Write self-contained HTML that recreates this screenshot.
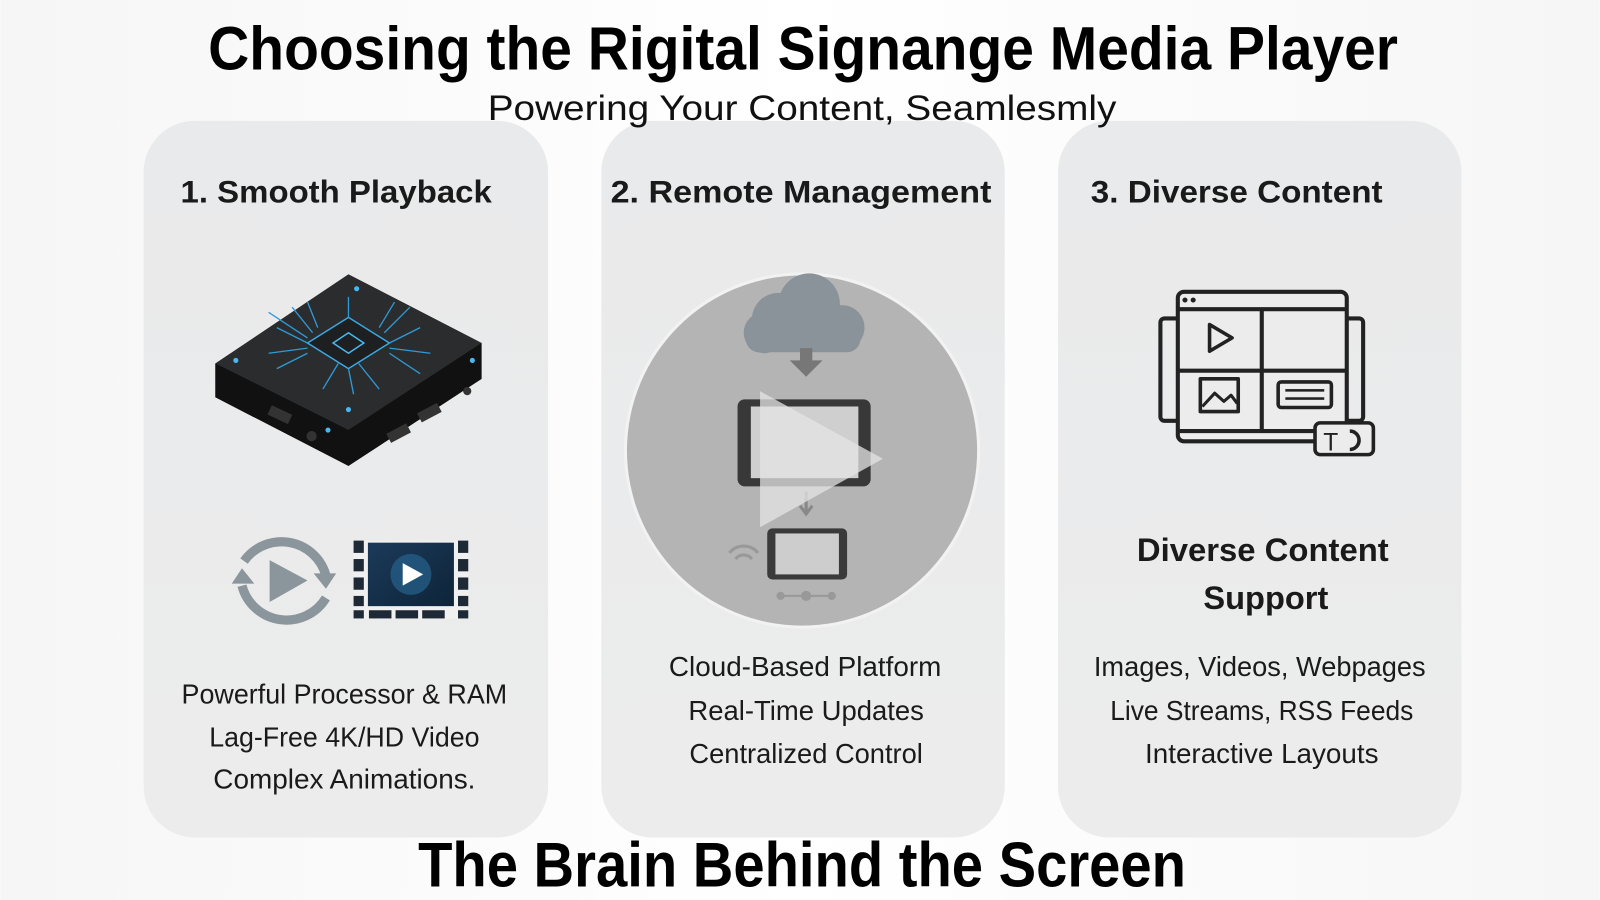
<!DOCTYPE html>
<html><head><meta charset="utf-8">
<style>
html,body{margin:0;padding:0;background:#fff;width:1600px;height:900px;overflow:hidden}
svg{display:block}
</style></head>
<body>
<svg width="1600" height="900" viewBox="0 0 1562 879" xmlns="http://www.w3.org/2000/svg" font-family="'Liberation Sans', sans-serif">
<defs>
<linearGradient id="bg" x1="0" x2="1"><stop offset="0" stop-color="#f6f6f6"/><stop offset="0.5" stop-color="#fff"/><stop offset="1" stop-color="#f6f6f6"/></linearGradient>
<linearGradient id="card" x1="0" y1="0" x2="0" y2="1"><stop offset="0" stop-color="#e9eaeb"/><stop offset="1" stop-color="#ececec"/></linearGradient>
<linearGradient id="scr" x1="0" y1="0" x2="1" y2="1"><stop offset="0" stop-color="#1b3a5a"/><stop offset="1" stop-color="#0e2438"/></linearGradient>
</defs>
<rect width="1562" height="879" fill="url(#bg)"/>

<!-- cards -->
<rect x="140" y="118" width="395" height="700" rx="50" fill="url(#card)"/>
<rect x="587" y="118" width="394" height="700" rx="50" fill="url(#card)"/>
<rect x="1033" y="118" width="394" height="700" rx="50" fill="url(#card)"/>

<!-- titles -->
<text x="784" y="68" text-anchor="middle" font-size="60" font-weight="bold" textLength="1162" lengthAdjust="spacingAndGlyphs" fill="#000">Choosing the Rigital Signange Media Player</text>
<text x="783" y="117" text-anchor="middle" font-size="34" textLength="614" lengthAdjust="spacingAndGlyphs" fill="#111">Powering Your Content, Seamlesmly</text>
<text x="783" y="866" text-anchor="middle" font-size="62" font-weight="bold" textLength="750" lengthAdjust="spacingAndGlyphs" fill="#000">The Brain Behind the Screen</text>

<!-- card headings -->
<text x="176" y="198" font-size="31" font-weight="bold" textLength="304" lengthAdjust="spacingAndGlyphs" fill="#1a1a1a">1. Smooth Playback</text>
<text x="596" y="198" font-size="31" font-weight="bold" textLength="372" lengthAdjust="spacingAndGlyphs" fill="#1a1a1a">2. Remote Management</text>
<text x="1065" y="198" font-size="31" font-weight="bold" textLength="285" lengthAdjust="spacingAndGlyphs" fill="#1a1a1a">3. Diverse Content</text>

<!-- card 1 device -->
<g>
<path d="M210 355 L340 268 L470 335 L470 370 L340 455 L210 388 Z" fill="#1a1a1a"/>
<path d="M210 355 L340 268 L470 335 L340 420 Z" fill="#2a2c2e"/>
<path d="M210 355 L340 420 L470 335 L470 370 L340 455 L210 388 Z" fill="#111"/>
<path d="M300 335 L340 310 L380 335 L340 360 Z" fill="#1d1f21" stroke="#3aa8e0" stroke-width="1.5"/>
<path d="M325 335 L340 325 L355 335 L340 345 Z" fill="none" stroke="#4ab8f0" stroke-width="1.5"/>
<g stroke="#2f9ad6" stroke-width="1.3" fill="none">
<path d="M300 335 L270 320 M300 330 L262 305 M305 325 L285 300 M310 320 L300 295 M300 340 L262 345 M300 345 L270 360 M380 335 L410 320 M375 325 L400 300 M370 320 L385 295 M380 340 L420 345 M380 345 L410 365 M340 360 L345 385 M350 355 L370 380 M330 355 L315 380 M340 310 L340 290"/>
</g>
<g fill="#4ab8f0"><circle cx="348" cy="282" r="2.5"/><circle cx="230" cy="352" r="2.5"/><circle cx="461" cy="352" r="2.5"/><circle cx="340" cy="400" r="2.5"/><circle cx="320" cy="420" r="2.5"/></g>
<rect x="262" y="400" width="22" height="10" fill="#333" transform="rotate(25 273 405)"/>
<rect x="378" y="418" width="22" height="10" fill="#333" transform="rotate(-28 389 423)"/>
<rect x="408" y="398" width="22" height="10" fill="#333" transform="rotate(-28 419 403)"/>
<circle cx="304" cy="426" r="5" fill="#333"/>
<circle cx="456" cy="382" r="4" fill="#333"/>
</g>

<!-- replay icon -->
<g fill="none" stroke="#8a959c" stroke-width="9">
<path d="M238 548 A45 45 0 0 1 318 562"/>
<path d="M318 584 A45 45 0 0 1 236 572"/>
</g>
<path d="M306 560 L328 560 L318 575 Z" fill="#8a959c"/>
<path d="M226 570 L248 570 L236 555 Z" fill="#8a959c"/>
<path d="M263 547 L300 567 L263 588 Z" fill="#8a959c"/>

<!-- film strip -->
<rect x="345" y="528" width="112" height="76" fill="#f0f0f0"/>
<g fill="#1d2a35">
<rect x="345" y="528" width="10" height="12"/><rect x="345" y="546" width="10" height="12"/><rect x="345" y="564" width="10" height="12"/><rect x="345" y="582" width="10" height="10"/><rect x="345" y="596" width="10" height="8"/>
<rect x="447" y="528" width="10" height="12"/><rect x="447" y="546" width="10" height="12"/><rect x="447" y="564" width="10" height="12"/><rect x="447" y="582" width="10" height="10"/><rect x="447" y="596" width="10" height="8"/>
<rect x="360" y="596" width="22" height="8"/><rect x="386" y="596" width="22" height="8"/><rect x="412" y="596" width="22" height="8"/>
</g>
<rect x="359" y="530" width="84" height="62" fill="url(#scr)"/>
<circle cx="401" cy="561" r="20" fill="#2a6a9a" opacity="0.6"/>
<path d="M393 550 L413 561 L393 572 Z" fill="#fff"/>

<!-- card 2 circle -->
<circle cx="783" cy="440" r="174" fill="#f2f2f2"/>
<circle cx="783" cy="440" r="171" fill="#b4b4b4"/>
<g fill="#8b939a">
<circle cx="760" cy="312" r="26"/><circle cx="790" cy="297" r="30"/><circle cx="822" cy="320" r="22"/><circle cx="746" cy="325" r="20"/>
<rect x="728" y="318" width="112" height="26" rx="13"/>
</g>
<rect x="781" y="340" width="12" height="15" fill="#777"/>
<path d="M771 352 L803 352 L787 368 Z" fill="#777"/>
<rect x="720" y="390" width="130" height="85" rx="7" fill="#383838"/>
<rect x="733" y="397" width="105" height="70" fill="#cfcfcf"/>
<path d="M787 480 L787 500 M781 494 L787 502 L793 494" stroke="#888" stroke-width="3" fill="none"/>
<rect x="749" y="516" width="78" height="50" rx="5" fill="#3a3a3a"/>
<rect x="757" y="521" width="62" height="40" fill="#cdcdcd"/>
<path d="M712 540 A18 18 0 0 1 740 540 M718 546 A10 10 0 0 1 734 546" stroke="#999" stroke-width="3" fill="none"/>
<path d="M760 582 L812 582" stroke="#999" stroke-width="2"/>
<circle cx="762" cy="582" r="4" fill="#999"/><circle cx="787" cy="582" r="5" fill="#999"/><circle cx="812" cy="582" r="4" fill="#999"/>
<path d="M742 382 L862 448 L742 515 Z" fill="#e4e4e4" opacity="0.75"/>

<!-- card 3 icon -->
<g fill="none" stroke="#222" stroke-width="4" stroke-linejoin="round">
<rect x="1133" y="311" width="20" height="100" rx="4"/>
<rect x="1311" y="311" width="20" height="100" rx="4"/>
<rect x="1150" y="285" width="165" height="146" rx="6" fill="#ececec"/>
<path d="M1150 302 L1315 302 M1232 302 L1232 421 M1150 362 L1315 362 M1150 421 L1315 421"/>
<path d="M1181 317 L1203 330 L1181 343 Z" stroke-width="3.5"/>
<rect x="1172" y="370" width="37" height="32" stroke-width="3.5"/>
<path d="M1174 397 L1186 384 L1195 392 L1202 386 L1208 394" stroke-width="3"/>
<rect x="1248" y="373" width="52" height="25" rx="3" stroke-width="3.5"/>
<rect x="1284" y="413" width="57" height="31" rx="5" fill="#ececec" stroke-width="3.5"/>
</g>
<circle cx="1157" cy="293" r="2.5" fill="#222"/><circle cx="1165" cy="293" r="2.5" fill="#222"/>
<g fill="#222"><rect x="1255" y="380" width="38" height="2.5"/><rect x="1255" y="388" width="38" height="2.5"/></g>
<text x="1292" y="440" font-size="24" fill="#222">T</text>
<path d="M1318 421 A9 9 0 1 1 1318 439" fill="none" stroke="#222" stroke-width="3.5"/>

<!-- card 3 subtitle -->
<text x="1233" y="548" text-anchor="middle" font-size="32" font-weight="bold" textLength="246" lengthAdjust="spacingAndGlyphs" fill="#1a1a1a">Diverse Content</text>
<text x="1236" y="595" text-anchor="middle" font-size="32" font-weight="bold" textLength="122" lengthAdjust="spacingAndGlyphs" fill="#1a1a1a">Support</text>

<!-- body text -->
<g font-size="27" fill="#1a1a1a" text-anchor="middle">
<text x="336" y="687" textLength="318" lengthAdjust="spacingAndGlyphs">Powerful Processor &amp; RAM</text>
<text x="336" y="729" textLength="264" lengthAdjust="spacingAndGlyphs">Lag-Free 4K/HD Video</text>
<text x="336" y="770" textLength="256" lengthAdjust="spacingAndGlyphs">Complex Animations.</text>
<text x="786" y="660" textLength="266" lengthAdjust="spacingAndGlyphs">Cloud-Based Platform</text>
<text x="787" y="703" textLength="230" lengthAdjust="spacingAndGlyphs">Real-Time Updates</text>
<text x="787" y="745" textLength="228" lengthAdjust="spacingAndGlyphs">Centralized Control</text>
<text x="1230" y="660" textLength="324" lengthAdjust="spacingAndGlyphs">Images, Videos, Webpages</text>
<text x="1232" y="703" textLength="296" lengthAdjust="spacingAndGlyphs">Live Streams, RSS Feeds</text>
<text x="1232" y="745" textLength="228" lengthAdjust="spacingAndGlyphs">Interactive Layouts</text>
</g>
</svg>
</body></html>
